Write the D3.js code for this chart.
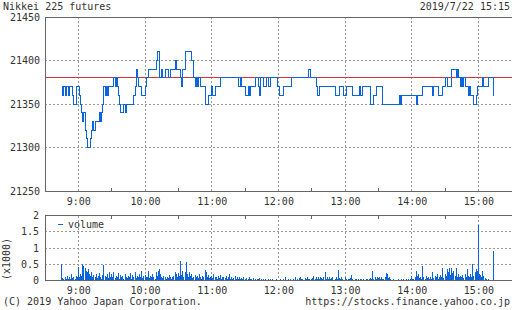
<!DOCTYPE html>
<html><head><meta charset="utf-8">
<script src="https://cdn.jsdelivr.net/npm/d3@7"></script>
<style>
body{margin:0;background:#fff}
svg text{font-family:"DejaVu Sans Mono",monospace;font-size:10px;fill:#333}
</style>
</head><body><svg id="c" width="512" height="310"></svg>
<script>
const title = "Nikkei 225 futures";
const stamp = "2019/7/22 15:15";
const credit = "(C) 2019 Yahoo Japan Corporation.";
const url = "https://stocks.finance.yahoo.co.jp";
const prevClose = 21380;
const priceTicks = [21250, 21300, 21350, 21400, 21450];
const volumeTicks = [0, 0.5, 1, 1.5, 2];
const volumeTickLabels = ["0", "0.5", "1", "1.5", "2"];
const hourTicks = ["9:00","10:00","11:00","12:00","13:00","14:00","15:00"];
const halfHourTicks = ["9:30","10:30","11:30","12:30","13:30","14:30"];
const timeDomain = ["8:30", "15:30"];

// price change points (step series)
const priceTimes = ["8:45","8:46","8:47","8:48","8:49","8:51","8:52","8:55","8:56","8:58",
"9:01","9:02","9:03","9:04","9:05","9:06","9:07","9:08","9:11","9:12","9:13","9:14","9:15","9:19","9:20","9:21","9:22","9:23","9:24","9:25","9:26","9:27",
"9:32","9:33","9:34","9:35","9:36","9:37","9:38","9:41","9:42","9:43","9:50","9:51","9:52","9:53","9:54","9:57",
"10:00","10:01","10:03","10:10","10:11","10:13","10:15","10:16","10:18","10:21","10:23","10:27","10:28","10:32","10:33","10:34","10:36","10:42","10:44","10:45","10:46","10:47","10:48","10:50","10:54","10:57",
"11:00","11:01","11:03","11:08","11:24","11:26","11:27","11:30","11:33","11:34","11:35","11:39","11:42","11:43","11:44","11:47","11:49","11:51","11:53","11:59",
"12:01","12:05","12:12","12:27","12:29","12:34","12:35","12:37","12:51","12:55","12:59",
"13:01","13:07","13:13","13:14","13:16","13:23","13:26","13:28","13:34","13:49","13:50","13:51",
"14:04","14:05","14:10","14:19","14:20","14:24","14:28","14:30","14:32","14:36","14:40","14:41","14:42","14:44","14:45","14:46","14:47","14:48","14:51","14:52","14:53","14:56","14:58","14:59",
"15:04","15:05","15:09","15:14"];
const priceValues = [21370,21360,21370,21360,21370,21360,21370,21360,21350,21370,
21360,21350,21340,21330,21340,21320,21310,21300,21310,21320,21330,21320,21330,21340,21330,21340,21350,21370,21360,21370,21360,21370,
21380,21370,21380,21370,21360,21350,21340,21350,21340,21350,21360,21370,21390,21380,21370,21360,
21370,21380,21390,21400,21410,21380,21390,21380,21390,21380,21390,21400,21390,21380,21370,21390,21410,21400,21380,21370,21380,21370,21380,21370,21350,21360,
21370,21360,21370,21380,21370,21380,21370,21360,21370,21360,21370,21380,21370,21360,21380,21370,21380,21370,21380,21370,
21360,21370,21380,21390,21380,21370,21360,21370,21360,21370,21360,
21370,21360,21370,21360,21370,21350,21360,21370,21350,21360,21350,21360,
21350,21360,21370,21360,21370,21360,21370,21380,21370,21390,21380,21390,21380,21370,21380,21370,21380,21370,21360,21370,21360,21350,21360,21370,
21380,21370,21380,21360];

// volume (x1000) per minute from 8:45
const volumeStart = "8:45";
const volume = [
0.50,0.08,0.05,0.12,0.06,0.15,0.04,0.10,0.06,0.20,0.08,0.12,0.05,0.15,0.10,
0.43,0.10,0.20,0.15,0.50,0.45,0.38,0.30,0.25,0.35,0.20,0.15,0.25,0.12,0.18,
0.10,0.20,0.08,0.15,0.22,0.12,0.05,0.18,0.48,0.15,0.10,0.20,0.08,0.25,0.12,
0.20,0.10,0.25,0.08,0.15,0.12,0.22,0.06,0.18,0.10,0.14,0.05,0.20,0.12,0.08,
0.15,0.10,0.22,0.06,0.18,0.12,0.25,0.08,0.15,0.10,0.20,0.12,0.30,0.08,0.15,
0.18,0.10,0.12,0.28,0.08,0.15,0.10,0.20,0.12,0.06,0.25,0.15,0.30,0.35,0.20,
0.12,0.08,0.15,0.10,0.05,0.12,0.08,0.18,0.10,0.06,0.12,0.15,0.25,0.20,0.10,
0.22,0.15,0.60,0.18,0.30,0.12,0.25,0.57,0.20,0.10,0.25,0.15,0.20,0.08,0.12,
0.18,0.10,0.15,0.08,0.20,0.12,0.06,0.15,0.10,0.33,0.25,0.12,0.18,0.08,0.10,
0.15,0.08,0.20,0.10,0.12,0.05,0.15,0.08,0.18,0.06,0.12,0.10,0.08,0.15,0.05,
0.10,0.20,0.06,0.12,0.05,0.08,0.15,0.04,0.10,0.06,0.12,0.05,0.08,0.04,0.10,
0.05,0.08,0.03,0.06,0.10,0.04,0.06,0.03,0.08,0.05,0.02,0.06,0.04,0.08,0.03,
0.05,0.02,0.04,0.06,0.03,0.02,0.05,0.03,0.04,0.02,0.06,0.03,0.02,0.04,0.03,
0.03,0.02,0.05,0.02,0.03,0.04,0.10,0.03,0.02,0.04,0.03,0.05,0.02,0.03,0.04,
0.10,0.03,0.05,0.02,0.08,0.10,0.04,0.06,0.03,0.08,0.05,0.10,0.04,0.06,0.03,
0.05,0.08,0.15,0.04,0.10,0.06,0.12,0.05,0.10,0.08,0.04,0.12,0.25,0.06,0.10,
0.05,0.12,0.04,0.08,0.10,0.03,0.06,0.12,0.05,0.32,0.08,0.04,0.10,0.06,0.03,
0.10,0.05,0.03,0.06,0.04,0.08,0.18,0.05,0.03,0.06,0.04,0.02,0.05,0.03,0.04,
0.06,0.03,0.05,0.02,0.04,0.06,0.03,0.05,0.08,0.04,0.30,0.06,0.10,0.05,0.12,
0.08,0.10,0.05,0.12,0.06,0.04,0.10,0.23,0.20,0.08,0.12,0.05,0.03,0.02,0.04,
0.02,0.03,0.02,0.04,0.02,0.03,0.05,0.02,0.06,0.03,0.04,0.02,0.05,0.03,0.06,
0.15,0.04,0.06,0.10,0.30,0.15,0.20,0.08,0.12,0.05,0.45,0.10,0.06,0.15,0.08,
0.12,0.05,0.10,0.06,0.25,0.08,0.15,0.10,0.20,0.06,0.12,0.18,0.10,0.38,0.08,
0.20,0.15,0.35,0.25,0.40,0.18,0.38,0.22,0.30,0.15,0.37,0.12,0.20,0.10,0.15,
0.12,0.18,0.08,0.20,0.10,0.35,0.15,0.10,0.20,0.12,0.52,0.15,0.25,0.35,0.30,
1.71,0.20,0.18,0.12,0.30,0.15,0.08,0.05,0.03,0.04,0.02,0.03,0.02,0.00,0.92];

const parse = s => { const [h, m] = s.split(":").map(Number); return new Date(2019, 6, 22, h, m); };
const fmt = d3.timeFormat("%-H:%M");

const svg = d3.select("#c");
const L = 45, R = 511.7;
const x = d3.scaleTime().domain(timeDomain.map(parse)).range([L, R]);
const yp = d3.scaleLinear().domain([21250, 21450]).range([191, 17]);
const yv = d3.scaleLinear().domain([0, 2]).range([280.5, 215.5]);

const axisCol = "#666", gridCol = "#999", blue = "#0a64dc", red = "#dd3333";
const snap = v => Math.round(v - 0.5) + 0.5;

function panel(y, ticks, top, bottom) {
  const g = svg.append("g").attr("shape-rendering", "crispEdges");
  // horizontal grid
  g.selectAll(null).data(ticks.slice(1, -1)).join("line")
    .attr("x1", L).attr("x2", R).attr("y1", d => snap(y(d))).attr("y2", d => snap(y(d)))
    .attr("stroke", gridCol).attr("stroke-dasharray", "2,2");
  // vertical grid
  g.selectAll(null).data(hourTicks.map(parse)).join("line")
    .attr("x1", d => snap(x(d))).attr("x2", d => snap(x(d))).attr("y1", top).attr("y2", bottom)
    .attr("stroke", gridCol).attr("stroke-dasharray", "2,2");
  return g;
}
function frame(top, bottom) {
  svg.append("rect").attr("x", snap(L)).attr("y", snap(top))
    .attr("width", Math.round(R - L)).attr("height", Math.round(bottom - top))
    .attr("fill", "none").attr("stroke", axisCol).attr("shape-rendering", "crispEdges");
}

// ----- price panel
panel(yp, priceTicks, 17, 191);
svg.append("line").attr("x1", L).attr("x2", R).attr("y1", snap(yp(prevClose))).attr("y2", snap(yp(prevClose)))
  .attr("stroke", red).attr("shape-rendering", "crispEdges");
const pts = priceTimes.map((t, i) => ({ t: parse(t), v: priceValues[i] }));
svg.append("path").datum(pts)
  .attr("d", d3.line().x(d => snap(x(d.t))).y(d => snap(yp(d.v))).curve(d3.curveStepAfter))
  .attr("fill", "none").attr("stroke", blue).attr("stroke-width", 1).attr("shape-rendering", "crispEdges");
frame(17, 191);
svg.append("g").selectAll(null).data(halfHourTicks.map(parse)).join("line")
  .attr("x1", d => snap(x(d))).attr("x2", d => snap(x(d))).attr("y1", 188).attr("y2", 191)
  .attr("stroke", axisCol).attr("shape-rendering", "crispEdges");

const ax1 = svg.append("g").attr("transform", "translate(0,191)")
  .call(d3.axisBottom(x).tickValues(hourTicks.map(parse)).tickFormat(fmt).tickSize(0).tickPadding(7));
const ay1 = svg.append("g").attr("transform", `translate(${L},0)`)
  .call(d3.axisLeft(yp).tickValues(priceTicks).tickFormat(d3.format("d")).tickSize(0).tickPadding(5));

// ----- volume panel
panel(yv, volumeTicks, 215.5, 280.5);
const vdata = volume.map((v, i) => ({ t: d3.timeMinute.offset(parse(volumeStart), i), v }));
svg.append("g").attr("shape-rendering", "crispEdges").selectAll("rect").data(vdata.filter(d => d.v > 0)).join("rect")
  .attr("x", d => Math.floor(x(d.t))).attr("width", 1)
  .attr("y", d => yv(d.v)).attr("height", d => yv(0) - yv(d.v))
  .attr("fill", blue);
frame(215.5, 280.5);
svg.append("g").selectAll(null).data(halfHourTicks.map(parse)).join("line")
  .attr("x1", d => snap(x(d))).attr("x2", d => snap(x(d))).attr("y1", 215.5).attr("y2", 219)
  .attr("stroke", axisCol).attr("shape-rendering", "crispEdges");

const ax2 = svg.append("g").attr("transform", "translate(0,280)")
  .call(d3.axisBottom(x).tickValues(hourTicks.map(parse)).tickFormat(fmt).tickSize(0).tickPadding(7));
const ay2 = svg.append("g").attr("transform", `translate(${L},0)`)
  .call(d3.axisLeft(yv).tickValues(volumeTicks).tickFormat((d, i) => volumeTickLabels[i]).tickSize(0).tickPadding(6));

svg.selectAll(".domain").remove();
svg.selectAll(".tick text").attr("font-family", null).attr("font-size", null).attr("fill", "#333");
svg.selectAll("g[font-family]").attr("font-family", null).attr("font-size", null);

// legend
svg.append("line").attr("x1", 58).attr("x2", 63).attr("y1", 224.5).attr("y2", 224.5).attr("stroke", blue);
svg.append("text").attr("x", 68).attr("y", 228).text("volume");
svg.append("text").attr("transform", "translate(10,259) rotate(-90)").attr("text-anchor", "middle").text("(x1000)");

// titles
svg.append("text").attr("x", 3).attr("y", 10).text(title);
svg.append("text").attr("x", 510).attr("y", 10).attr("text-anchor", "end").text(stamp);
svg.append("text").attr("x", 3).attr("y", 305).text(credit);
svg.append("text").attr("x", 510).attr("y", 305).attr("text-anchor", "end").text(url);
</script>
</body></html>
